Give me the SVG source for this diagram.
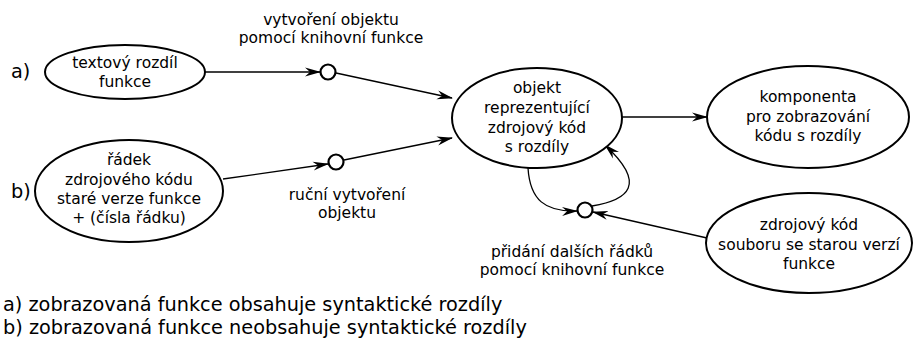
<svg xmlns="http://www.w3.org/2000/svg" width="917" height="342" viewBox="0 0 917 342">
<defs>
<style>
text{font-family:"DejaVu Sans",sans-serif;fill:#000}
.n{font-size:15.5px;text-anchor:middle}
.big{font-size:19.3px}
ellipse{fill:#fff;stroke:#000;stroke-width:2}
circle{fill:#fff;stroke:#000;stroke-width:2.2}
.c path{fill:none;stroke:#000;stroke-width:1.3}
</style>
<marker id="ah" viewBox="0 0 16 10" refX="15" refY="5" markerWidth="16" markerHeight="10" markerUnits="userSpaceOnUse" orient="auto">
<path d="M0,0.5 L16,5 L0,9.5 L5,5 Z" fill="#000"/>
</marker>
</defs>
<rect width="917" height="342" fill="#fff"/>
<g class="c">
<path d="M205,72 L320,72" marker-end="url(#ah)"/>
<path d="M336,73 L452,98" marker-end="url(#ah)"/>
<path d="M223,179 L328,164" marker-end="url(#ah)"/>
<path d="M344,160 L452,138" marker-end="url(#ah)"/>
<path d="M622,117 L707,117" marker-end="url(#ah)"/>
<path d="M528,168 C530,200 545,212 577,211" marker-end="url(#ah)"/>
<path d="M592,206 C628,200 648,185 605,145" marker-end="url(#ah)"/>
<path d="M707,238 L593,212" marker-end="url(#ah)"/>
</g>
<g id="lbl-a"><text class="big" x="11" y="78">a)</text></g>
<g id="lbl-b"><text class="big" x="11" y="198">b)</text></g>
<g id="n1"><ellipse cx="125" cy="72" rx="80" ry="27"/>
<text class="n" x="125" y="68">textový rozdíl</text><text class="n" x="125" y="87">funkce</text></g>
<g id="n2"><ellipse cx="129" cy="191" rx="94" ry="51"/>
<text class="n" x="129" y="165">řádek</text><text class="n" x="129" y="185">zdrojového kódu</text><text class="n" x="129" y="204">staré verze funkce</text><text class="n" x="129" y="223">+ (čísla řádku)</text></g>
<g id="p1"><circle cx="328" cy="72" r="7.5"/></g>
<g id="p2"><circle cx="336" cy="162" r="7.5"/></g>
<g id="p3"><circle cx="585" cy="210" r="7.5"/></g>
<g id="t1"><text class="n" x="331" y="25">vytvoření objektu</text><text class="n" x="331" y="43">pomocí knihovní funkce</text></g>
<g id="t2"><text class="n" x="347" y="200">ruční vytvoření</text><text class="n" x="347" y="218">objektu</text></g>
<g id="t3"><text class="n" x="572" y="257">přidání dalších řádků</text><text class="n" x="572" y="275">pomocí knihovní funkce</text></g>
<g id="n3"><ellipse cx="537" cy="118" rx="85" ry="50"/>
<text class="n" x="537" y="93">objekt</text><text class="n" x="537" y="113">reprezentující</text><text class="n" x="537" y="133">zdrojový kód</text><text class="n" x="537" y="152">s rozdíly</text></g>
<g id="n4"><ellipse cx="808" cy="117" rx="101" ry="51"/>
<text class="n" x="808" y="102">komponenta</text><text class="n" x="808" y="122">pro zobrazování</text><text class="n" x="808" y="141">kódu s rozdíly</text></g>
<g id="n5"><ellipse cx="809" cy="243" rx="103" ry="50"/>
<text class="n" x="809" y="230">zdrojový kód</text><text class="n" x="809" y="250">souboru se starou verzí</text><text class="n" x="809" y="269">funkce</text></g>
<g id="legend"><text class="big" x="3" y="311">a) zobrazovaná funkce obsahuje syntaktické rozdíly</text><text class="big" x="3" y="334">b) zobrazovaná funkce neobsahuje syntaktické rozdíly</text></g>
</svg>
